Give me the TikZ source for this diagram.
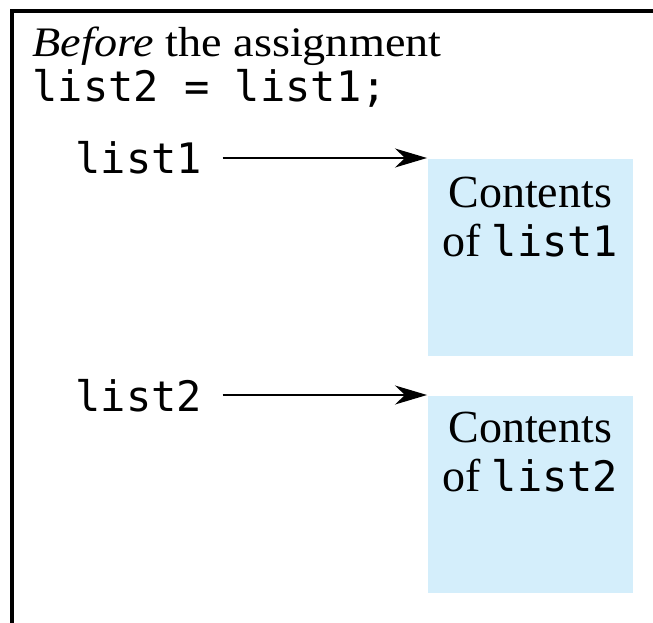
\documentclass[tikz,border=0pt]{standalone}
\usepackage{fontspec}
\setmainfont{Liberation Serif}
\newfontfamily\codefont{DejaVu Sans Mono}
\usepackage{tikz}
\usetikzlibrary{arrows.meta}
\definecolor{boxblue}{RGB}{212,238,251}
\newcommand{\code}[1]{{\codefont\fontsize{42}{49}\selectfont #1}}

\begin{document}
\begin{tikzpicture}[x=1pt, y=-1pt,
			>={Stealth[length=32pt, width=19pt, inset=10pt]},
			line width=1.3pt,
			varname/.style={anchor=base west, inner sep=0pt, font=\codefont\fontsize{42}{49}\selectfont},
			contents/.style={anchor=north west, fill=boxblue, inner sep=0pt, minimum width=205pt, minimum height=197pt},
			boxtext/.style={anchor=north, inner sep=0pt, align=center, font=\fontsize{46}{49}\selectfont}]
			\useasboundingbox (0,0) rectangle (653,623);
			\draw[line width=4pt] (11.5,640) -- (11.5,11.5) -- (670,11.5);
			\node at (32,57) (title) [anchor=base west, inner sep=0pt, font=\fontsize{42}{48}\selectfont] {\scalebox{1.1}[1]{\textit{Before} the assignment}};
			\node at (32,102) (stmt) [varname] {list2 = list1;};
			\node at (75,173) (name1) [varname] {list1};
			\node at (75,411) (name2) [varname] {list2};
			\node at (427,158) (box1) [contents] {};
			\node at (427,395) (box2) [contents] {};
			\node at ([yshift=-18pt]box1.north) (text1) [boxtext] {Contents\\of \code{list1}};
			\node at ([yshift=-16pt]box2.north) (text2) [boxtext] {Contents\\of \code{list2}};
			\draw[->, black, shorten <=20pt] (name1.east |- box1.north west) -- (box1.north west);
			\draw[->, black, shorten <=20pt] (name2.east |- box2.north west) -- (box2.north west);
		\end{tikzpicture}
\end{document}
